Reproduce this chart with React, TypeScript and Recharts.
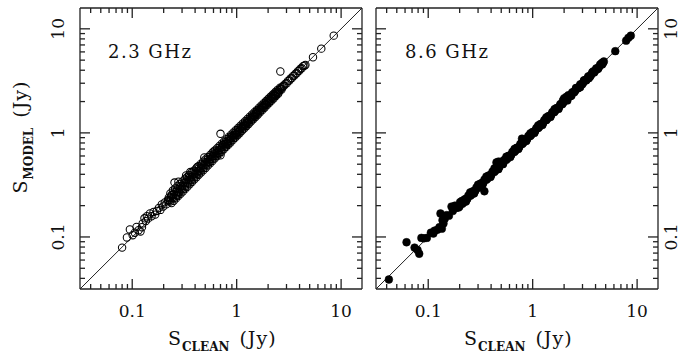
import React from 'react';
import { ScatterChart, Scatter, XAxis, YAxis, ReferenceLine } from 'recharts';

// axis range: 10^-1.5 .. 10^1.2 on both axes
const LO = 0.0316228;
const HI = 15.8489;
const TICKS = [0.04, 0.05, 0.06, 0.07, 0.08, 0.09, 0.1, 0.2, 0.3, 0.4, 0.5, 0.6, 0.7, 0.8, 0.9, 1, 2, 3, 4, 5, 6, 7, 8, 9, 10];
const MAJOR_LABELS: Record<string, string> = { '0.1': '0.1', '1': '1', '10': '10' };

// ---- 2.3 GHz (open circles): [S_CLEAN, S_MODEL] in Jy ----
const sparse23: [number, number][] = [
  [0.08, 0.079], [0.089, 0.099], [0.095, 0.118], [0.101, 0.104], [0.106, 0.11], [0.11, 0.125], [0.115, 0.116],
  [0.12, 0.113], [0.124, 0.124], [0.126, 0.135], [0.131, 0.151], [0.135, 0.142], [0.138, 0.158], [0.142, 0.15],
  [0.148, 0.168], [0.153, 0.158], [0.16, 0.174], [0.166, 0.164], [0.172, 0.178], [0.18, 0.19], [0.186, 0.182],
  [0.192, 0.205], [0.198, 0.196], [0.205, 0.215], [0.212, 0.206], [0.222, 0.225], [0.239, 0.252], [0.254, 0.333],
  [0.277, 0.34], [0.328, 0.39], [0.27, 0.25], [0.36, 0.42], [0.42, 0.47], [0.49, 0.58], [0.6, 0.66], [0.7, 0.98],
  [0.7, 0.61], [2.62, 3.89], [5.38, 5.33], [6.46, 6.45], [8.5, 8.6],
  [2.93, 2.97], [3.02, 3.0], [3.1, 3.16], [3.2, 3.18], [3.28, 3.33], [3.38, 3.36], [3.47, 3.52], [3.57, 3.55],
  [3.66, 3.71], [3.76, 3.74], [3.86, 3.92], [3.97, 3.95], [4.08, 4.14], [4.2, 4.17], [4.32, 4.38], [4.45, 4.42], [4.55, 4.5],
];
const bandMid23: [number, number][] = [
  [0.22, 0.226], [0.228, 0.224], [0.235, 0.241], [0.243, 0.238], [0.251, 0.258], [0.26, 0.255], [0.268, 0.274], [0.277, 0.271],
  [0.287, 0.293], [0.296, 0.29], [0.306, 0.313], [0.317, 0.31], [0.327, 0.333], [0.338, 0.332], [0.35, 0.357], [0.362, 0.355],
  [0.374, 0.38], [0.386, 0.379], [0.4, 0.406], [0.413, 0.405], [0.427, 0.433], [0.441, 0.434], [0.456, 0.462], [0.472, 0.464],
  [0.488, 0.494], [0.504, 0.497], [0.521, 0.527], [0.539, 0.531], [0.557, 0.562], [0.576, 0.568], [0.595, 0.6], [0.615, 0.607],
  [0.636, 0.641], [0.658, 0.649], [0.68, 0.684], [0.703, 0.694], [0.727, 0.731], [0.751, 0.742], [0.777, 0.781], [0.803, 0.794],
  [0.83, 0.834], [0.858, 0.849], [0.887, 0.891], [0.917, 0.908], [0.948, 0.952], [0.98, 0.972], [1.013, 1.017], [1.047, 1.04],
  [1.083, 1.087], [1.12, 1.112], [1.157, 1.162], [1.197, 1.19], [1.237, 1.242], [1.279, 1.272], [1.322, 1.327], [1.367, 1.36],
  [1.413, 1.418], [1.461, 1.454], [1.51, 1.516], [1.561, 1.554], [1.614, 1.62], [1.669, 1.661], [1.725, 1.731], [1.784, 1.776],
  [1.844, 1.85], [1.906, 1.898], [1.971, 1.977], [2.037, 2.029], [2.106, 2.112], [2.178, 2.17], [2.251, 2.257], [2.327, 2.318],
  [2.406, 2.412], [2.487, 2.478], [2.571, 2.577], [2.658, 2.649], [2.748, 2.754], [2.841, 2.832],
];
const bandHi23: [number, number][] = [
  [0.232, 0.262], [0.245, 0.279], [0.258, 0.292], [0.272, 0.309], [0.286, 0.323], [0.301, 0.339], [0.317, 0.356], [0.334, 0.374],
  [0.351, 0.393], [0.37, 0.413], [0.389, 0.434], [0.41, 0.456], [0.431, 0.479], [0.454, 0.503], [0.478, 0.529], [0.503, 0.555],
  [0.53, 0.584], [0.558, 0.613], [0.587, 0.644], [0.618, 0.677], [0.651, 0.712], [0.685, 0.748], [0.721, 0.786], [0.759, 0.826],
  [0.799, 0.868], [0.841, 0.913], [0.886, 0.96], [0.932, 1.009], [0.981, 1.06], [1.033, 1.114], [1.088, 1.171], [1.145, 1.231],
  [1.205, 1.293], [1.269, 1.359], [1.336, 1.428], [1.406, 1.501], [1.48, 1.578], [1.558, 1.658], [1.641, 1.743], [1.727, 1.831],
  [1.818, 1.925], [1.914, 2.022], [2.015, 2.125], [2.121, 2.233], [2.233, 2.347], [2.35, 2.466], [2.474, 2.591], [2.605, 2.722],
];
const bandMh23: [number, number][] = [
  [0.224, 0.238], [0.239, 0.253], [0.255, 0.27], [0.272, 0.288], [0.291, 0.307], [0.311, 0.328], [0.332, 0.35], [0.356, 0.374],
  [0.38, 0.399], [0.406, 0.426], [0.434, 0.455], [0.464, 0.486], [0.496, 0.519], [0.53, 0.554], [0.566, 0.591], [0.605, 0.631],
  [0.647, 0.674], [0.691, 0.719], [0.739, 0.768], [0.79, 0.82], [0.844, 0.875], [0.902, 0.934], [0.964, 0.997], [1.03, 1.064],
  [1.1, 1.135], [1.177, 1.213], [1.258, 1.295], [1.344, 1.382], [1.437, 1.476], [1.536, 1.576], [1.641, 1.682], [1.754, 1.796],
  [1.875, 1.918], [2.004, 2.048], [2.142, 2.187], [2.289, 2.335], [2.446, 2.493], [2.614, 2.662], [2.794, 2.842],
];
const bandMl23: [number, number][] = [
  [0.231, 0.219], [0.247, 0.234], [0.264, 0.25], [0.282, 0.268], [0.301, 0.286], [0.322, 0.306], [0.344, 0.327], [0.368, 0.35],
  [0.393, 0.374], [0.42, 0.4], [0.449, 0.428], [0.48, 0.458], [0.513, 0.49], [0.548, 0.524], [0.586, 0.56], [0.626, 0.599],
  [0.669, 0.64], [0.715, 0.684], [0.764, 0.731], [0.816, 0.781], [0.872, 0.835], [0.932, 0.893], [0.996, 0.955], [1.064, 1.021],
  [1.137, 1.092], [1.215, 1.167], [1.298, 1.248], [1.387, 1.334], [1.482, 1.427], [1.584, 1.526], [1.692, 1.632], [1.808, 1.745],
  [1.932, 1.866], [2.065, 1.996], [2.206, 2.134], [2.357, 2.282], [2.519, 2.441], [2.692, 2.61],
];
const bandLo23: [number, number][] = [
  [0.238, 0.212], [0.25, 0.223], [0.263, 0.235], [0.276, 0.247], [0.29, 0.26], [0.305, 0.274], [0.321, 0.289], [0.337, 0.304],
  [0.355, 0.321], [0.373, 0.338], [0.392, 0.356], [0.412, 0.375], [0.434, 0.395], [0.456, 0.416], [0.479, 0.438], [0.504, 0.461],
  [0.53, 0.486], [0.557, 0.511], [0.585, 0.538], [0.615, 0.566], [0.647, 0.596], [0.68, 0.627], [0.715, 0.66], [0.752, 0.695],
  [0.79, 0.731], [0.831, 0.77], [0.873, 0.81], [0.918, 0.852], [0.965, 0.897], [1.015, 0.944], [1.067, 0.994], [1.122, 1.046],
  [1.179, 1.101], [1.24, 1.159], [1.303, 1.22], [1.37, 1.284], [1.44, 1.351], [1.514, 1.422], [1.592, 1.497], [1.673, 1.576],
  [1.759, 1.659], [1.849, 1.746], [1.944, 1.838], [2.044, 1.935], [2.148, 2.036], [2.258, 2.143], [2.374, 2.256], [2.496, 2.375],
];

// ---- 8.6 GHz (filled circles) ----
const sparse86: [number, number][] = [
  [0.042, 0.039], [0.062, 0.089], [0.074, 0.079], [0.079, 0.075], [0.082, 0.069], [0.086, 0.098], [0.091, 0.097], [0.097, 0.098],
  [0.106, 0.11], [0.112, 0.108], [0.115, 0.115], [0.122, 0.117], [0.128, 0.124], [0.135, 0.12], [0.14, 0.135], [0.131, 0.168],
  [0.137, 0.145], [0.144, 0.15], [0.15, 0.162], [0.158, 0.16], [0.167, 0.196], [0.172, 0.178], [0.18, 0.2], [0.185, 0.19],
  [0.202, 0.216], [0.345, 0.275], [0.45, 0.52], [0.47, 0.53], [0.79, 0.88], [6.18, 6.1], [7.85, 7.7], [8.25, 8.2], [8.7, 8.6],
];
const bandMain86: [number, number][] = [
  [0.19, 0.195], [0.199, 0.196], [0.208, 0.213], [0.217, 0.214], [0.227, 0.232], [0.237, 0.233], [0.248, 0.253], [0.259, 0.255],
  [0.271, 0.276], [0.283, 0.279], [0.296, 0.301], [0.309, 0.305], [0.323, 0.328], [0.338, 0.333], [0.353, 0.358], [0.369, 0.364],
  [0.385, 0.391], [0.403, 0.398], [0.421, 0.427], [0.44, 0.434], [0.46, 0.466], [0.48, 0.474], [0.502, 0.508], [0.524, 0.517],
  [0.548, 0.554], [0.573, 0.566], [0.598, 0.605], [0.625, 0.617], [0.654, 0.661], [0.683, 0.675], [0.714, 0.721], [0.746, 0.737],
  [0.779, 0.787], [0.814, 0.805], [0.851, 0.859], [0.889, 0.879], [0.929, 0.937], [0.971, 0.961], [1.015, 1.023], [1.06, 1.05],
  [1.108, 1.116], [1.158, 1.147], [1.21, 1.218], [1.264, 1.253], [1.321, 1.33], [1.381, 1.369], [1.443, 1.452], [1.508, 1.495],
  [1.575, 1.585], [1.646, 1.633], [1.72, 1.73], [1.798, 1.785], [1.879, 1.89], [1.963, 1.95], [2.051, 2.063], [2.144, 2.13],
  [2.24, 2.253], [2.341, 2.327], [2.446, 2.459], [2.556, 2.541], [2.671, 2.684], [2.791, 2.776], [2.917, 2.93], [3.048, 3.032],
  [3.185, 3.198], [3.329, 3.312], [3.478, 3.491], [3.635, 3.618], [3.798, 3.811], [3.969, 3.951], [4.148, 4.16], [4.334, 4.316],
  [4.53, 4.54], [4.73, 4.71],
];
const bandAlt86: [number, number][] = [
  [0.195, 0.192], [0.203, 0.209], [0.212, 0.208], [0.222, 0.228], [0.232, 0.228], [0.242, 0.249], [0.253, 0.249], [0.265, 0.273],
  [0.277, 0.272], [0.289, 0.298], [0.302, 0.297], [0.316, 0.325], [0.33, 0.324], [0.345, 0.355], [0.361, 0.355], [0.377, 0.388],
  [0.394, 0.387], [0.412, 0.424], [0.43, 0.422], [0.45, 0.463], [0.47, 0.462], [0.491, 0.505], [0.513, 0.504], [0.536, 0.551],
  [0.56, 0.55], [0.585, 0.601], [0.611, 0.6], [0.639, 0.656], [0.668, 0.656], [0.698, 0.717], [0.73, 0.717], [0.762, 0.783],
  [0.796, 0.782], [0.832, 0.854], [0.87, 0.854], [0.909, 0.933], [0.95, 0.933], [0.993, 1.019], [1.037, 1.018], [1.084, 1.113],
  [1.133, 1.112], [1.184, 1.215], [1.237, 1.214], [1.292, 1.326], [1.351, 1.326], [1.412, 1.449], [1.475, 1.448], [1.541, 1.581],
  [1.61, 1.58], [1.683, 1.727], [1.759, 1.726], [1.838, 1.886], [1.921, 1.885], [2.007, 2.06], [2.097, 2.058], [2.192, 2.249],
  [2.29, 2.247], [2.393, 2.455], [2.501, 2.454], [2.613, 2.681], [2.731, 2.68], [2.854, 2.928], [2.982, 2.926], [3.116, 3.196],
  [3.256, 3.195], [3.403, 3.49], [3.556, 3.49], [3.716, 3.81], [3.883, 3.81], [4.058, 4.16], [4.24, 4.16], [4.43, 4.54], [4.63, 4.55],
];
const bandSide86: [number, number][] = [
  [0.21, 0.222], [0.23, 0.219], [0.252, 0.268], [0.275, 0.262], [0.3, 0.318], [0.33, 0.314], [0.36, 0.38], [0.395, 0.377],
  [0.43, 0.455], [0.47, 0.448], [0.5, 0.53], [0.52, 0.5], [0.56, 0.59], [0.61, 0.585], [0.67, 0.7], [0.73, 0.7],
  [0.8, 0.835], [0.87, 0.835], [0.95, 0.99], [1.04, 1.0], [1.13, 1.18], [1.24, 1.19], [1.35, 1.41], [1.48, 1.42],
  [1.62, 1.69], [1.77, 1.7], [1.95, 2.05], [2.0, 2.15], [2.1, 2.22], [2.2, 2.3], [2.15, 2.05], [2.35, 2.28],
  [2.6, 2.7], [2.85, 2.75], [3.1, 3.2], [3.45, 3.35], [3.8, 3.9], [4.2, 4.1], [4.6, 4.7], [4.8, 4.85],
];

const toRows = (...lists: [number, number][][]) => lists.flat().map(([x, y]) => ({ x, y }));
const data23 = toRows(bandLo23, bandMl23, bandMid23, bandMh23, bandHi23, sparse23);
const data86 = toRows(bandSide86, bandAlt86, bandMain86, sparse86);

const FONT = "'DejaVu Serif', serif";
const AX = '#222';
const TXT = '#111';
const TICK_W = 1.3;

type Side = 'bottom' | 'top' | 'left' | 'right';
function tickFor(side: Side, labels: boolean) {
  return (p: any) => {
    const v = p.payload?.value;
    const lab = MAJOR_LABELS[String(v)];
    const len = lab ? 10 : 5;
    const x = Number(p.x);
    const y = Number(p.y);
    let d = '';
    if (side === 'bottom') d = `M${x},${y}V${y - len}`;
    if (side === 'top') d = `M${x},${y}V${y + len}`;
    if (side === 'left') d = `M${x},${y}H${x + len}`;
    if (side === 'right') d = `M${x},${y}H${x - len}`;
    let text: React.ReactNode = null;
    if (labels && lab) {
      const common = { fontFamily: FONT, fontSize: 17, fill: TXT, textAnchor: 'middle' as const };
      if (side === 'bottom') text = <text x={x} y={y + 28} {...common}>{lab}</text>;
      if (side === 'left') {
        const tx = x - 16;
        text = <text x={tx} y={y} transform={`rotate(-90 ${tx} ${y})`} {...common}>{lab}</text>;
      }
      if (side === 'right') {
        const tx = x + 19;
        text = <text x={tx} y={y} transform={`rotate(-90 ${tx} ${y})`} {...common}>{lab}</text>;
      }
    }
    return (
      <g>
        <path d={d} stroke={AX} strokeWidth={TICK_W} fill="none" />
        {text}
      </g>
    );
  };
}

type PanelProps = {
  data: { x: number; y: number }[];
  filled: boolean;
  width: number;
  margin: { top: number; right: number; bottom: number; left: number };
  leftLabels: boolean;
  rightLabels: boolean;
};

function Panel({ data, filled, width, margin, leftLabels, rightLabels }: PanelProps) {
  const shape = (p: any) => (
    <circle cx={p.cx} cy={p.cy} r={filled ? 3.9 : 3.7} fill={filled ? '#000' : 'none'} stroke="#000" strokeWidth={filled ? 0.5 : 1.05} />
  );
  const axisCommon = {
    type: 'number' as const,
    scale: 'log' as const,
    domain: [LO, HI],
    allowDataOverflow: true,
    ticks: TICKS,
    interval: 0 as const,
    tickLine: false,
    tickSize: 0,
    tickMargin: 0,
    axisLine: { stroke: AX, strokeWidth: 1.3 },
  };
  return (
    <ScatterChart width={width} height={356} margin={margin}>
      <XAxis xAxisId="b" dataKey="x" orientation="bottom" height={1} {...axisCommon} tick={tickFor('bottom', true)} />
      <XAxis xAxisId="t" dataKey="x" orientation="top" height={1} {...axisCommon} tick={tickFor('top', false)} />
      <YAxis yAxisId="l" dataKey="y" orientation="left" width={1} {...axisCommon} tick={tickFor('left', leftLabels)} />
      <YAxis yAxisId="r" dataKey="y" orientation="right" width={1} {...axisCommon} tick={tickFor('right', rightLabels)} />
      <ReferenceLine
        xAxisId="b"
        yAxisId="l"
        segment={[{ x: LO, y: LO }, { x: HI, y: HI }]}
        stroke="#222"
        strokeWidth={1}
        ifOverflow="visible"
      />
      <Scatter xAxisId="b" yAxisId="l" data={data} shape={shape} isAnimationActive={false} />
    </ScatterChart>
  );
}

function XTitle({ x }: { x: number }) {
  return (
    <text x={x} y={345} fontFamily={FONT} fontSize={19} fill={TXT} style={{ whiteSpace: 'pre' }}>
      S
      <tspan fontSize={12} fontWeight="bold" dy={6} dx={1}>CLEAN</tspan>
      <tspan dy={-6} dx={10} letterSpacing={1}>(Jy)</tspan>
    </text>
  );
}

export default function App() {
  return (
    <div style={{ position: 'absolute', left: 0, top: 0, width: 681, height: 356, background: '#fff', overflow: 'hidden' }}>
      <div style={{ position: 'absolute', left: 0, top: 0 }}>
        <Panel data={data23} filled={false} width={370} margin={{ top: 7, right: 7, bottom: 66, left: 79 }} leftLabels={true} rightLabels={false} />
      </div>
      <div style={{ position: 'absolute', left: 370, top: 0 }}>
        <Panel data={data86} filled={true} width={311} margin={{ top: 7, right: 22, bottom: 66, left: 5 }} leftLabels={false} rightLabels={true} />
      </div>
      <svg width={681} height={356} style={{ position: 'absolute', left: 0, top: 0, pointerEvents: 'none' }}>
        <text x={108} y={58} fontFamily={FONT} fontSize={18} letterSpacing={1.5} fill={TXT}>2.3 GHz</text>
        <text x={405} y={58} fontFamily={FONT} fontSize={18} letterSpacing={1.5} fill={TXT}>8.6 GHz</text>
        <XTitle x={168} />
        <XTitle x={464} />
        <text x={27} y={137} transform="rotate(-90 27 137)" textAnchor="middle" fontFamily={FONT} fontSize={19} fill={TXT}>
          S
          <tspan fontSize={12} fontWeight="bold" dy={6} dx={1}>MODEL</tspan>
          <tspan dy={-6} dx={10} letterSpacing={1}>(Jy)</tspan>
        </text>
      </svg>
    </div>
  );
}
